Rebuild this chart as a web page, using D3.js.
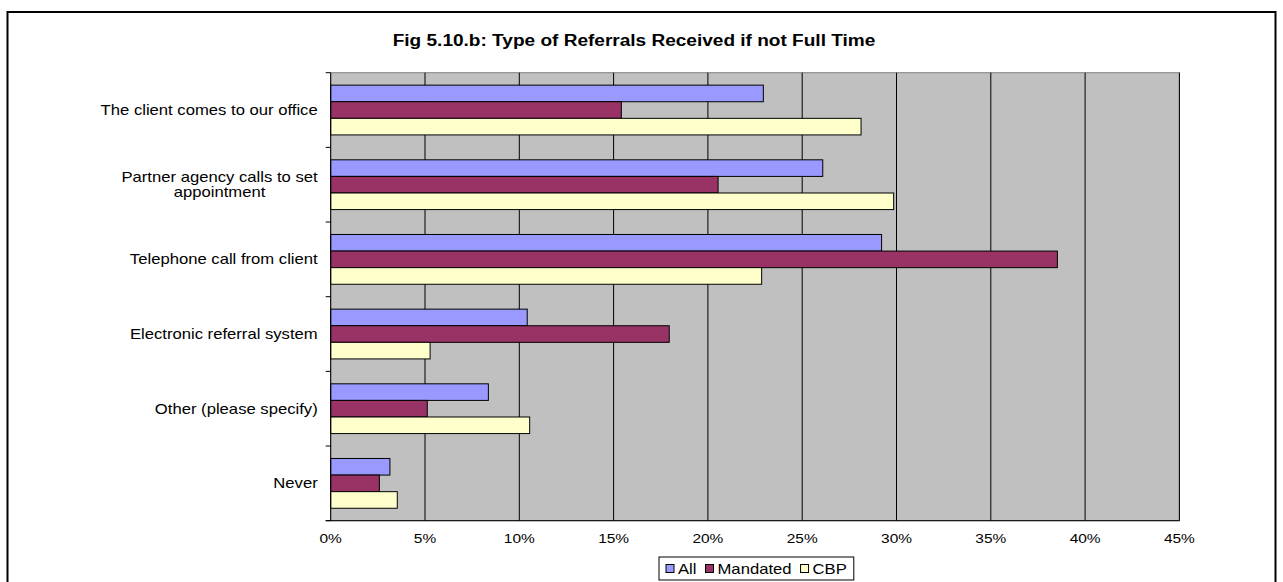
<!DOCTYPE html>
<html>
<head>
<meta charset="utf-8">
<script src="https://cdn.jsdelivr.net/npm/d3@7"></script>
<style>
html,body{margin:0;padding:0;background:#fff;}
svg{display:block;}
text{font-family:Arial,"Liberation Sans",sans-serif;fill:#000;}
</style>
</head>
<body>
<svg id="chart" width="1283" height="582"></svg>
<script>
const categories = [
  "The client comes to our office",
  "Partner agency calls to set appointment",
  "Telephone call from client",
  "Electronic referral system",
  "Other (please specify)",
  "Never"
];
const categoryLines = [
  ["The client comes to our office "],
  ["Partner agency calls to set", "appointment"],
  ["Telephone call from client"],
  ["Electronic referral system"],
  ["Other (please specify)"],
  ["Never"]
];
const seriesNames = ["All", "Mandated", "CBP"];
const allValues      = [0.2294, 0.2609, 0.2921, 0.1042, 0.0836, 0.0314];
const mandatedValues = [0.1541, 0.2054, 0.3853, 0.1795, 0.0512, 0.0258];
const cbpValues      = [0.2812, 0.2985, 0.2285, 0.0527, 0.1055, 0.0353];
const seriesColors = ["#9999FF", "#993366", "#FFFFCC"];
const tickValues = [0, 0.05, 0.10, 0.15, 0.20, 0.25, 0.30, 0.35, 0.40, 0.45];
const titleText = "Fig 5.10.b: Type of Referrals Received if not Full Time";

const seriesValues = [allValues, mandatedValues, cbpValues];
const SX = 1.19; // horizontal stretch of the original rendering

const svg = d3.select("#chart");

// outer frame
svg.append("rect").attr("x", 7.5).attr("y", 12).attr("width", 1268).attr("height", 600)
  .attr("fill", "#fff").attr("stroke", "#000").attr("stroke-width", 2);

const x = d3.scaleLinear().domain([0, 0.45]).range([330.7, 1179.4]);
const y = d3.scaleBand().domain(categories).range([72.7, 520.7]).paddingInner(0).paddingOuter(0);
const ys = d3.scaleBand().domain(seriesNames).range([0, y.bandwidth()]).paddingInner(0).paddingOuter(0.75);

function stretchedText(sel, px, py, anchor) {
  sel.attr("text-anchor", anchor).attr("transform", `translate(${px},${py}) scale(${SX},1)`);
}

// plot background
svg.append("rect").attr("x", x(0)).attr("y", y.range()[0])
  .attr("width", x(0.45) - x(0)).attr("height", y.range()[1] - y.range()[0])
  .attr("fill", "#C0C0C0").attr("stroke", "#808080").attr("stroke-width", 1);

// gridlines
svg.append("g").selectAll("line").data(tickValues.slice(1)).join("line")
  .attr("x1", d => x(d)).attr("x2", d => x(d))
  .attr("y1", y.range()[0]).attr("y2", y.range()[1])
  .attr("stroke", "#000").attr("stroke-width", 1);

// bars
const groups = svg.append("g").selectAll("g").data(categories).join("g")
  .attr("transform", d => `translate(0,${y(d)})`);
groups.selectAll("rect").data((c, i) => seriesNames.map((s, j) => ({s, j, v: seriesValues[j][i]})))
  .join("rect")
  .attr("x", x(0)).attr("y", d => ys(d.s))
  .attr("width", d => x(d.v) - x(0)).attr("height", ys.bandwidth())
  .attr("fill", d => seriesColors[d.j]).attr("stroke", "#000").attr("stroke-width", 1);

// y axis
const yAxisG = svg.append("g");
yAxisG.append("line").attr("x1", x(0)).attr("x2", x(0))
  .attr("y1", y.range()[0]).attr("y2", y.range()[1]).attr("stroke", "#000");
const boundaries = categories.map(c => y(c)).concat([y.range()[1]]);
yAxisG.selectAll("line.tk").data(boundaries).join("line").attr("class", "tk")
  .attr("x1", x(0) - 5).attr("x2", x(0)).attr("y1", d => d).attr("y2", d => d).attr("stroke", "#000");

// x axis line
svg.append("line").attr("x1", x(0) - 5).attr("x2", x(0.45))
  .attr("y1", y.range()[1]).attr("y2", y.range()[1]).attr("stroke", "#000");

// category labels
categories.forEach((c, i) => {
  const lines = categoryLines[i];
  const cy = y(c) + y.bandwidth() / 2;
  const lh = 15;
  const g = svg.append("g");
  const tmp = lines.map(l => {
    const t = g.append("text").attr("font-size", 14).text(l);
    const w = t.node().getComputedTextLength() * SX;
    t.remove();
    return w;
  });
  const maxW = d3.max(tmp);
  const right = 317.7;
  lines.forEach((l, k) => {
    const py = cy + (k - (lines.length - 1) / 2) * lh + 5;
    const t = g.append("text").attr("font-size", 14).text(l);
    if (lines.length === 1) stretchedText(t, right, py, "end");
    else stretchedText(t, right - maxW / 2, py, "middle");
  });
});

// x tick labels
svg.append("g").selectAll("text").data(tickValues).join("text")
  .attr("font-size", 13)
  .each(function(d) { stretchedText(d3.select(this), x(d), 542.5, "middle"); })
  .text(d => d3.format(".0%")(d));

// title
const title = svg.append("text").attr("font-size", 16).attr("font-weight", "bold").text(titleText);
stretchedText(title, 634, 46, "middle");

// legend
const leg = svg.append("g");
const legX = 659, legY = 557, legH = 23;
let cx = legX + 7;
seriesNames.forEach((s, j) => {
  leg.append("rect").attr("x", cx).attr("y", legY + 7.5).attr("width", 8).attr("height", 8)
    .attr("fill", seriesColors[j]).attr("stroke", "#000").attr("stroke-width", 1);
  cx += 12;
  const t = leg.append("text").attr("font-size", 14).text(s);
  stretchedText(t, cx, legY + 16.5, "start");
  cx += t.node().getComputedTextLength() * SX + 9;
});
leg.insert("rect", ":first-child").attr("x", legX).attr("y", legY)
  .attr("width", cx - legX - 2).attr("height", legH)
  .attr("fill", "#fff").attr("stroke", "#000").attr("stroke-width", 1);
</script>
</body>
</html>
